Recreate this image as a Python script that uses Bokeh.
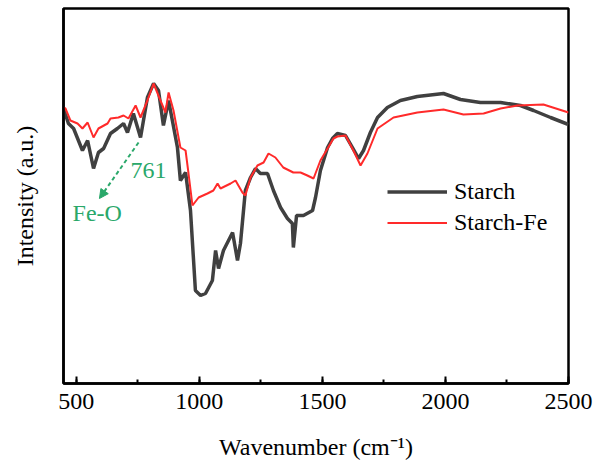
from bokeh.plotting import figure
from bokeh.models import (Range1d, SingleIntervalTicker, Legend, LegendItem,
                          Arrow, NormalHead, Label, FixedTicker)
from bokeh.embed import file_html
from bokeh.resources import INLINE

# ---- data (wavenumber in cm-1, intensity in arbitrary units) ----
starch_wn = [448, 468, 489, 525, 546, 570, 590, 611, 639, 667, 692, 708, 732, 761,
             789, 814, 834, 854, 875, 911, 923, 944, 964, 984, 1005, 1025, 1053,
             1066, 1078, 1098, 1135, 1155, 1167, 1187, 1208, 1228, 1248, 1277, 1301,
             1330, 1358, 1378, 1382, 1395, 1423, 1460, 1472, 1492, 1521, 1541, 1561,
             1594, 1622, 1647, 1667, 1695, 1724, 1764, 1817, 1886, 1992, 2061, 2142,
             2224, 2305, 2358, 2427, 2500]
starch_int = [275, 260, 255, 233, 243, 215, 231, 235, 250, 255, 260, 251, 270, 246,
              286, 300, 293, 258, 283, 236, 203, 211, 173, 93, 88, 90, 103,
              133, 115, 133, 151, 123, 140, 193, 206, 215, 210, 210, 193,
              176, 165, 160, 136, 168, 168, 173, 186, 213, 236, 245, 250,
              248, 236, 225, 233, 251, 266, 276, 283, 287, 290, 284, 281,
              281, 278, 273, 266, 259]

fe_wn = [448, 456, 476, 505, 525, 546, 570, 590, 627, 639, 671, 692, 712, 741, 761,
         789, 814, 842, 862, 875, 895, 923, 944, 956, 972, 997, 1033, 1057, 1074,
         1086, 1127, 1147, 1175, 1187, 1208, 1236, 1261, 1281, 1309, 1341, 1382,
         1411, 1439, 1464, 1492, 1521, 1545, 1561, 1594, 1626, 1655, 1683, 1724,
         1789, 1886, 1992, 2073, 2155, 2224, 2293, 2398, 2500]
fe_int = [276, 275, 263, 260, 255, 261, 246, 255, 260, 265, 266, 268, 265, 278, 266,
          283, 300, 283, 271, 291, 273, 236, 233, 210, 178, 186, 190, 193, 200,
          195, 200, 203, 191, 188, 206, 218, 221, 230, 226, 216, 211,
          211, 208, 205, 223, 235, 245, 247, 248, 233, 218, 230, 255,
          266, 271, 274, 269, 270, 275, 278, 279, 271]

peak_label = "761"
band_label = "Fe-O"
series_names = ["Starch", "Starch-Fe"]

FONT = "Liberation Serif"

p = figure(width=597, height=468, output_backend="svg", toolbar_location=None,
           x_range=Range1d(448, 2500), y_range=Range1d(0, 375),
           min_border_left=63, min_border_right=29, min_border_top=8,
           min_border_bottom=85, background_fill_color="white",
           border_fill_color="white")
p.grid.visible = False
p.outline_line_color = "black"
p.outline_line_width = 2.5

# x axis
p.xaxis.ticker = SingleIntervalTicker(interval=500, num_minor_ticks=2)
p.xaxis.major_tick_in = 7
p.xaxis.major_tick_out = 0
p.xaxis.minor_tick_in = 4
p.xaxis.minor_tick_out = 0
p.xaxis.major_tick_line_width = 2
p.xaxis.minor_tick_line_width = 2
p.xaxis.major_tick_line_color = "black"
p.xaxis.minor_tick_line_color = "black"
p.xaxis.axis_line_color = "black"
p.xaxis.axis_line_width = 2.5
p.xaxis.major_label_text_font = FONT
p.xaxis.major_label_text_font_size = "24px"
p.xaxis.major_label_text_color = "black"
p.xaxis.major_label_standoff = 10
p.xaxis.axis_label = "Wavenumber (cm\u207b\u00b9)"
p.xaxis.axis_label_text_font = FONT
p.xaxis.axis_label_text_font_size = "24px"
p.xaxis.axis_label_text_font_style = "normal"
p.xaxis.axis_label_text_color = "black"
p.xaxis.axis_label_standoff = 22

# y axis
p.yaxis.ticker = FixedTicker(ticks=[])
p.yaxis.major_tick_line_color = None
p.yaxis.minor_tick_line_color = None
p.yaxis.axis_line_color = "black"
p.yaxis.axis_line_width = 2.5
p.yaxis.major_label_text_font_size = "0px"
p.yaxis.axis_label = "Intensity (a.u.)"
p.yaxis.axis_label_text_font = FONT
p.yaxis.axis_label_text_font_size = "24px"
p.yaxis.axis_label_text_font_style = "normal"
p.yaxis.axis_label_text_color = "black"
p.yaxis.axis_label_standoff = 26

r1 = p.line(starch_wn, starch_int, line_color="#404040", line_width=3.5)
r2 = p.line(fe_wn, fe_int, line_color="#ff2a2a", line_width=2)

legend = Legend(items=[LegendItem(label=series_names[0], renderers=[r1]),
                       LegendItem(label=series_names[1], renderers=[r2])],
                location=(324, 145), padding=0, margin=0, spacing=0,
                glyph_width=60, glyph_height=31, label_height=31,
                label_standoff=7, label_text_font=FONT,
                label_text_font_size="24px", label_text_color="black",
                border_line_color=None, background_fill_alpha=0)
p.add_layout(legend)

green = "#2aa86a"
p.add_layout(Arrow(x_start=753, y_start=241, x_end=594, y_end=185,
                   line_color=green, line_width=2, line_dash="4 3",
                   end=NormalHead(size=9, fill_color=green, line_color=green)))
p.add_layout(Label(x=720, y=213, text=peak_label, text_font=FONT,
                   text_font_size="24px", text_color=green,
                   text_baseline="alphabetic", text_align="left"))
p.add_layout(Label(x=485, y=171, text=band_label, text_font=FONT,
                   text_font_size="24px", text_color=green,
                   text_baseline="alphabetic", text_align="left"))

open("out.html", "w").write(file_html(p, INLINE))
